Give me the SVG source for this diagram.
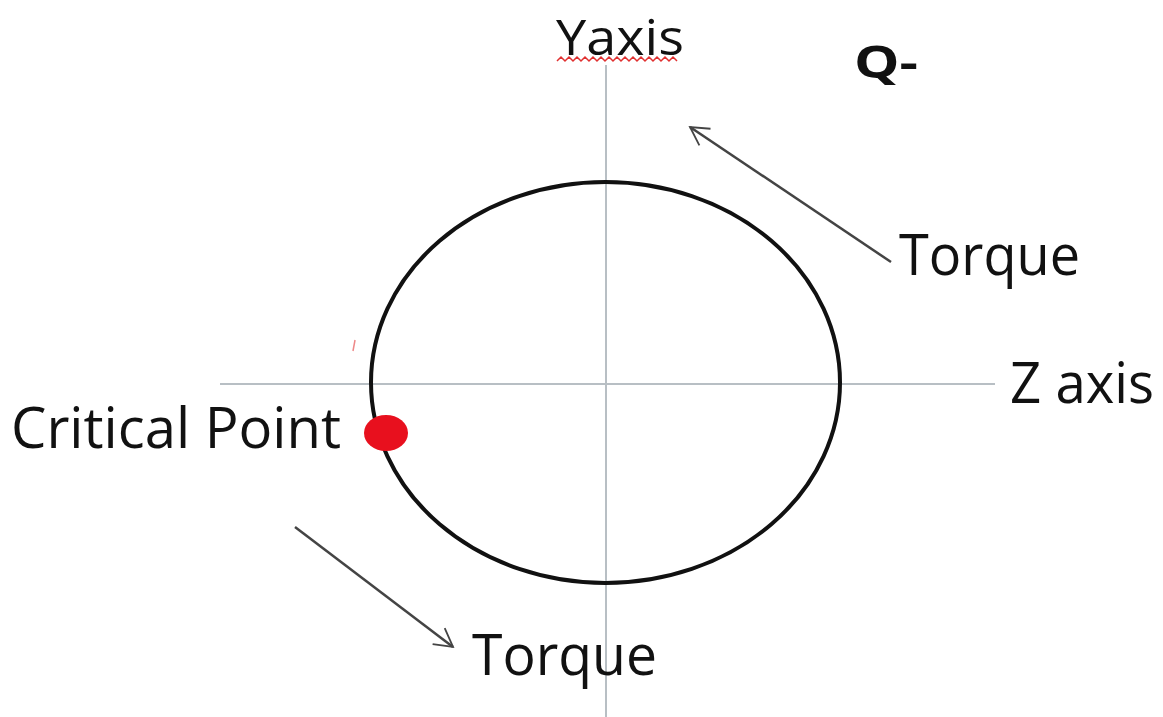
<svg xmlns="http://www.w3.org/2000/svg" width="1163" height="717" viewBox="0 0 1163 717">
<style>
.lbl{font-family:"Open Sans","Noto Sans","Liberation Sans",sans-serif;font-size:57px;fill:#111}
.axis{stroke:#b8bfc4;stroke-width:2;fill:none}
.arr{stroke:#444;stroke-width:2.5;fill:none}
</style>
<defs>
<marker id="ah" viewBox="0 0 20 20" refX="18" refY="10" markerWidth="20" markerHeight="20" markerUnits="userSpaceOnUse" orient="auto" overflow="visible">
<path d="M0,0 L18,10 L0,20" fill="none" stroke="#444" stroke-width="1.8"/>
</marker>
</defs>
<rect width="1163" height="717" fill="#fff"/>
<g id="axes">
<line class="axis" x1="606" y1="65" x2="606" y2="717"/>
<line class="axis" x1="220" y1="384" x2="995" y2="384"/>
</g>
<g id="ellipse">
<ellipse cx="605.5" cy="382.5" rx="234.5" ry="200.5" fill="none" stroke="#111" stroke-width="4"/>
</g>
<g id="labels">
<text class="lbl" x="556" y="55" textLength="128" lengthAdjust="spacingAndGlyphs" style="font-size:50px">Yaxis</text>
<path d="M557,61 l4,-4 l4,4 l4,-4 l4,4 l4,-4 l4,4 l4,-4 l4,4 l4,-4 l4,4 l4,-4 l4,4 l4,-4 l4,4 l4,-4 l4,4 l4,-4 l4,4 l4,-4 l4,4 l4,-4 l4,4 l4,-4 l4,4 l4,-4 l4,4 l4,-4 l4,4 l4,-4 l4,4" fill="none" stroke="#e03030" stroke-width="1.5"/>
<text x="854" y="78" textLength="64" lengthAdjust="spacingAndGlyphs" style="font-family:'Open Sans','Liberation Sans',sans-serif;font-weight:bold;font-size:44px;fill:#111">Q-</text>
<text class="lbl" x="899" y="275" textLength="181" lengthAdjust="spacingAndGlyphs">Torque</text>
<text class="lbl" x="1010" y="403" textLength="144" lengthAdjust="spacingAndGlyphs">Z axis</text>
<text class="lbl" x="11" y="448" textLength="330" lengthAdjust="spacingAndGlyphs">Critical Point</text>
<text class="lbl" x="472" y="675" textLength="185" lengthAdjust="spacingAndGlyphs">Torque</text>
</g>
<g id="critical-point">
<ellipse cx="386" cy="433" rx="22" ry="18" fill="#e8101e"/>
<path d="M355,340 L353,351" stroke="#e88" stroke-width="1.5"/>
</g>
<g id="connectors">
<line class="arr" x1="891" y1="262" x2="690" y2="127" marker-end="url(#ah)"/>
<line class="arr" x1="295" y1="527" x2="453" y2="647" marker-end="url(#ah)"/>
</g>
</svg>
